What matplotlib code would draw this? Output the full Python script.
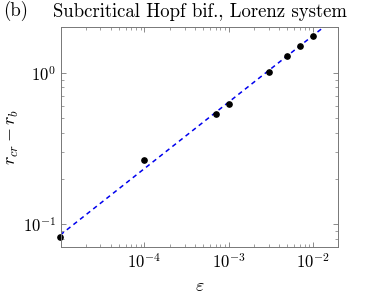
import matplotlib
matplotlib.use("Agg")
import matplotlib.pyplot as plt
from matplotlib.ticker import LogLocator, NullFormatter

plt.rcParams['font.family'] = 'serif'
plt.rcParams['font.serif'] = ['cmr10']
plt.rcParams['mathtext.fontset'] = 'cm'
plt.rcParams['axes.formatter.use_mathtext'] = True

# data
eps = [1e-5, 1e-4, 7e-4, 1e-3, 3e-3, 5e-3, 7e-3, 1e-2]
r_diff = [0.083, 0.265, 0.537, 0.622, 1.015, 1.28, 1.49, 1.75]

# dashed power-law guide line (endpoints)
fit_eps = [1e-5, 2e-2]
fit_r = [0.085, 2.37]

fig = plt.figure(figsize=(3.74, 2.96), dpi=100)
ax = fig.add_axes([0.163, 0.166, 0.741, 0.743])

ax.plot(fit_eps, fit_r, '--', color='#0000ee', lw=1.1, dashes=(3, 2.5))
ax.plot(eps, r_diff, 'o', color='black', ms=3.8, clip_on=False)

ax.set_xscale('log')
ax.set_yscale('log')
ax.set_xlim(1.02e-5, 2e-2)
ax.set_ylim(0.071, 2.0)
ax.yaxis.set_major_locator(LogLocator(base=10, numticks=10))
ax.yaxis.set_minor_locator(LogLocator(base=10, subs=range(2, 10), numticks=10))
ax.yaxis.set_minor_formatter(NullFormatter())
ax.xaxis.set_minor_formatter(NullFormatter())

ax.tick_params(which='both', direction='in', top=True, right=True, color='#777777',
               labelsize=12)
ax.tick_params(which='major', length=3.5, width=0.6)
ax.tick_params(which='minor', length=2, width=0.5)
for s in ax.spines.values():
    s.set_color('#777777')
    s.set_linewidth(0.7)

ax.set_xlabel(r'$\varepsilon$', fontsize=13, labelpad=6)
ax.set_ylabel(r'$r_{cr} - r_b$', fontsize=13, labelpad=1)
ax.set_title('Subcritical Hopf bif., Lorenz system', fontsize=13.5, pad=7)
fig.text(0.008, 0.945, '(b)', fontsize=13.5)

fig.savefig('out.png', dpi=100)
